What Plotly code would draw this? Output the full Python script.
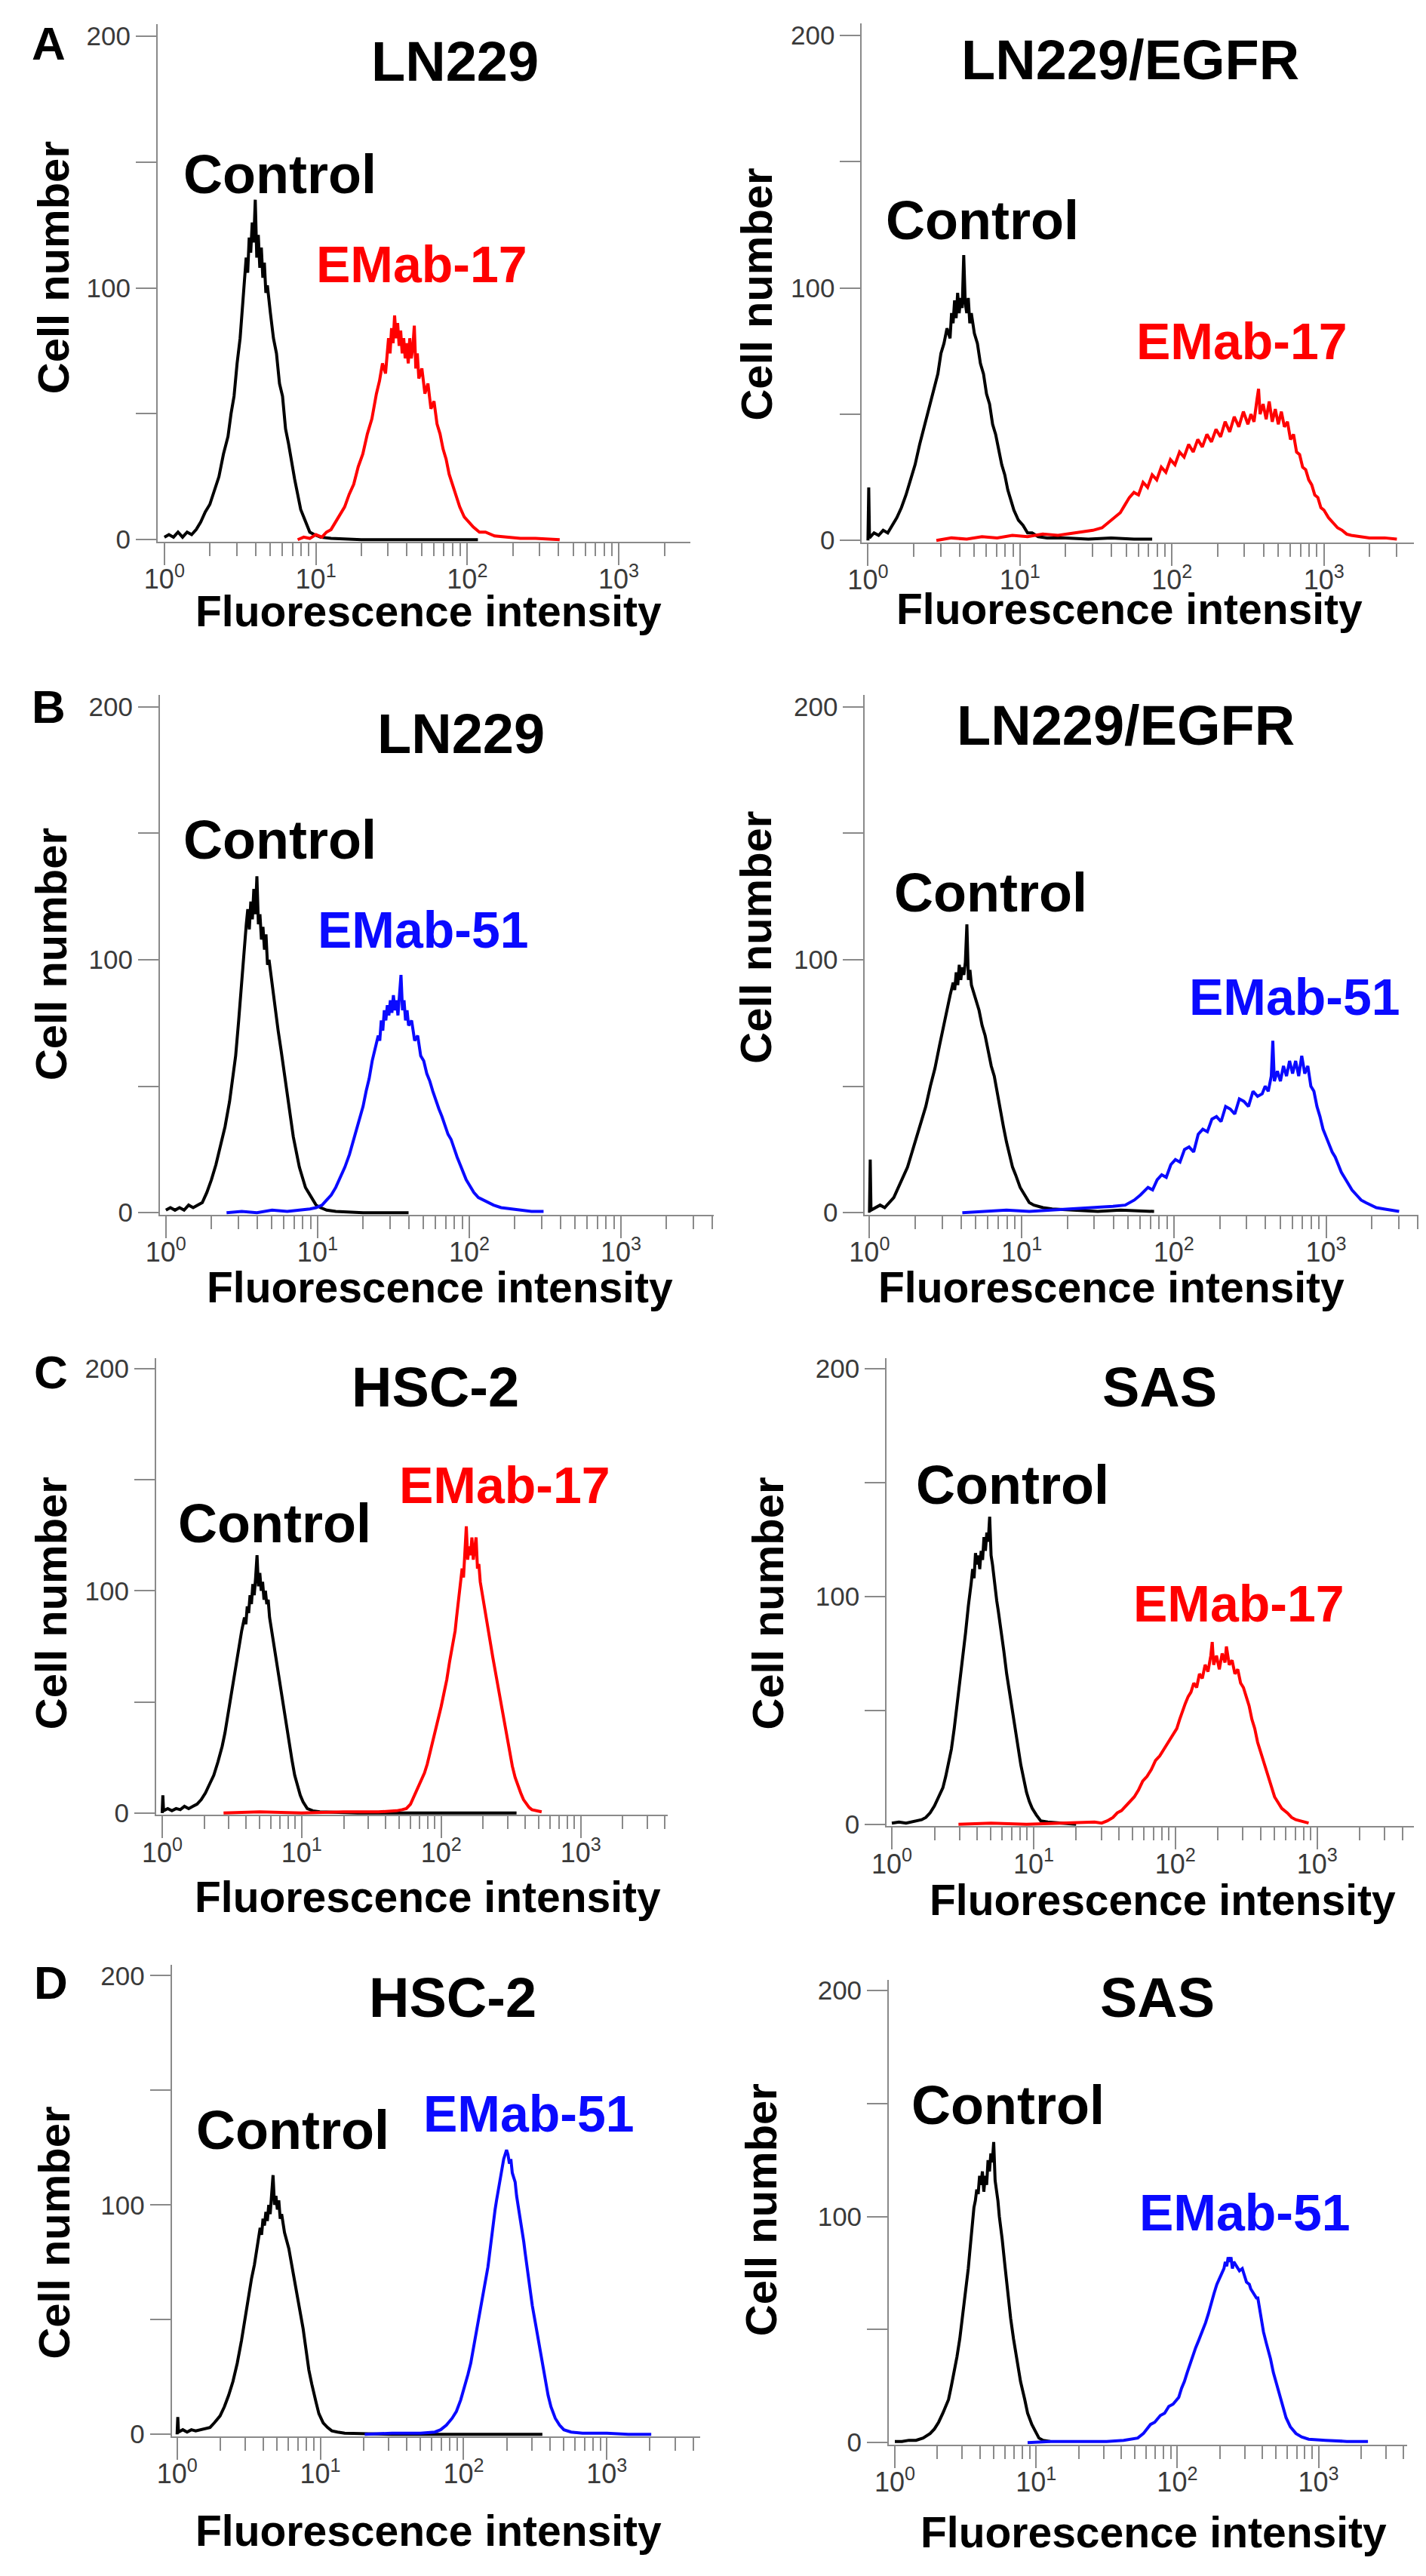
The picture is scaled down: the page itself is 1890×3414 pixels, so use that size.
import plotly.graph_objects as go

W, H = 1890, 3414

# ---------------- data ----------------
panel_letters = ["A", "B", "C", "D"]
cell_lines = ["LN229", "LN229/EGFR", "LN229", "LN229/EGFR", "HSC-2", "SAS", "HSC-2", "SAS"]
antibodies = ["EMab-17", "EMab-17", "EMab-51", "EMab-51", "EMab-17", "EMab-17", "EMab-51", "EMab-51"]
control_label = "Control"
x_title = "Fluorescence intensity"
y_title = "Cell number"
x_tick_vals = [1, 10, 100, 1000]
x_tick_text = ["10<sup>0</sup>", "10<sup>1</sup>", "10<sup>2</sup>", "10<sup>3</sup>"]
x_minor_vals = [2, 3, 4, 5, 6, 7, 8, 9, 20, 30, 40, 50, 60, 70, 80, 90,
                200, 300, 400, 500, 600, 700, 800, 900, 2000, 3000, 4000]
y_tick_vals = [0, 50, 100, 150, 200]
y_tick_text = ["0", "", "100", "", "200"]

# (log10 fluorescence, cell count)
a_ln229_control = [(0.00,1),(0.03,2),(0.06,1),(0.09,3),(0.12,1),(0.15,3),(0.18,2),(0.21,4),(0.24,7),(0.27,11),
    (0.30,14),(0.33,20),(0.36,25),(0.39,34),(0.42,41),(0.44,50),(0.46,57),(0.48,70),(0.50,80),(0.52,96),
    (0.53,104),(0.54,112),(0.55,106),(0.56,120),(0.57,114),(0.58,126),(0.59,118),(0.60,135),(0.61,112),(0.62,121),
    (0.63,108),(0.64,116),(0.65,104),(0.66,110),(0.67,98),(0.68,101),(0.70,90),(0.72,80),(0.74,74),(0.76,62),
    (0.78,57),(0.80,44),(0.82,38),(0.84,30),(0.86,24),(0.88,18),(0.90,12),(0.92,9),(0.94,6),(0.96,3),
    (0.99,2),(1.03,1),(1.10,0.5),(1.30,0),(1.60,0),(1.90,0),(2.07,0)]
a_ln229_emab17 = [(0.88,0),(0.92,1),(0.96,0.5),(1.00,2),(1.04,1),(1.07,3),(1.10,4),(1.13,7),(1.16,10),(1.19,13),
    (1.22,18),(1.25,22),(1.28,29),(1.31,34),(1.34,42),(1.37,48),(1.40,58),(1.42,63),(1.44,70),(1.46,66),
    (1.48,80),(1.49,74),(1.50,84),(1.51,78),(1.52,89),(1.53,80),(1.54,86),(1.55,77),(1.56,83),(1.57,74),
    (1.58,80),(1.59,72),(1.60,78),(1.61,70),(1.62,80),(1.63,72),(1.64,76),(1.65,85),(1.66,68),(1.67,74),
    (1.68,64),(1.70,68),(1.72,58),(1.74,62),(1.76,52),(1.78,55),(1.80,46),(1.82,42),(1.84,36),(1.86,32),
    (1.88,26),(1.90,22),(1.92,18),(1.95,13),(1.98,9),(2.01,7),(2.04,5),(2.08,3),(2.12,3),(2.18,1.5),
    (2.25,1),(2.35,0.5),(2.45,0.5),(2.61,0)]
a_egfr_control = [(0.00,0),(0.005,21),(0.01,1),(0.04,3),(0.07,2),(0.10,4),(0.13,3),(0.16,6),(0.19,9),(0.22,13),
    (0.25,18),(0.28,24),(0.31,30),(0.34,38),(0.37,45),(0.40,52),(0.43,60),(0.46,66),(0.48,74),(0.50,78),
    (0.52,84),(0.54,80),(0.55,90),(0.56,86),(0.57,95),(0.58,88),(0.59,98),(0.60,90),(0.61,96),(0.62,92),
    (0.63,113),(0.64,94),(0.65,90),(0.66,96),(0.67,86),(0.68,90),(0.70,82),(0.72,78),(0.74,70),(0.76,66),
    (0.78,58),(0.80,54),(0.82,46),(0.84,42),(0.86,36),(0.88,30),(0.90,26),(0.92,20),(0.94,16),(0.96,12),
    (0.99,8),(1.02,6),(1.05,3),(1.08,3),(1.12,1.5),(1.18,1),(1.30,1),(1.45,0.5),(1.60,1),(1.75,0.5),(1.87,0.5)]
a_egfr_emab17 = [(0.45,0),(0.55,1),(0.65,0.5),(0.75,1.5),(0.85,1),(0.95,2),(1.05,1.5),(1.15,2.5),(1.25,2),(1.35,3),
    (1.42,3.5),(1.48,4),(1.54,5),(1.58,7),(1.62,9),(1.66,11),(1.69,14),(1.72,17),(1.75,19),(1.78,18),
    (1.81,23),(1.84,21),(1.87,26),(1.90,24),(1.93,29),(1.96,27),(1.99,32),(2.02,30),(2.05,35),(2.08,33),
    (2.11,38),(2.14,35),(2.17,40),(2.20,37),(2.23,42),(2.26,39),(2.29,44),(2.32,41),(2.35,47),(2.38,43),
    (2.41,49),(2.44,45),(2.47,51),(2.50,46),(2.52,50),(2.54,47),(2.56,56),(2.57,60),(2.58,50),(2.60,54),
    (2.62,48),(2.64,55),(2.66,47),(2.68,52),(2.70,46),(2.72,51),(2.74,45),(2.76,47),(2.78,40),(2.80,42),
    (2.82,35),(2.84,34),(2.86,29),(2.88,28),(2.90,24),(2.92,22),(2.94,18),(2.96,17),(2.98,13),(3.00,12),
    (3.03,9),(3.06,7),(3.09,5),(3.12,4),(3.15,2.5),(3.18,2),(3.24,1.5),(3.30,1),(3.40,1),(3.48,0.5)]
b_ln229_control = [(0.00,1),(0.03,2),(0.06,1),(0.09,2),(0.12,1),(0.15,3),(0.18,2),(0.21,3),(0.24,4),(0.27,8),
    (0.30,13),(0.33,19),(0.36,26),(0.39,34),(0.42,44),(0.44,52),(0.46,62),(0.48,76),(0.50,92),(0.51,100),
    (0.52,108),(0.53,114),(0.54,120),(0.55,112),(0.56,123),(0.57,116),(0.58,128),(0.59,118),(0.60,133),(0.61,114),
    (0.62,118),(0.63,108),(0.64,113),(0.65,104),(0.66,110),(0.67,98),(0.68,100),(0.70,90),(0.72,82),(0.74,72),
    (0.76,64),(0.78,55),(0.80,46),(0.82,38),(0.84,30),(0.86,24),(0.88,18),(0.90,14),(0.92,10),(0.94,8),
    (0.96,6),(0.99,3),(1.02,2),(1.06,1),(1.12,0.5),(1.30,0),(1.60,0)]
b_ln229_emab51 = [(0.40,0),(0.50,0.5),(0.60,0),(0.70,1),(0.80,0.5),(0.90,1),(0.95,1.5),(0.99,2),(1.03,3),(1.06,5),
    (1.09,7),(1.12,10),(1.15,14),(1.18,18),(1.21,23),(1.24,29),(1.27,35),(1.30,42),(1.32,48),(1.34,53),
    (1.36,60),(1.38,65),(1.40,70),(1.41,68),(1.42,76),(1.43,72),(1.44,80),(1.45,76),(1.46,82),(1.47,78),
    (1.48,84),(1.49,79),(1.50,86),(1.51,80),(1.52,84),(1.53,78),(1.54,88),(1.55,94),(1.56,80),(1.57,84),
    (1.58,76),(1.59,80),(1.60,74),(1.62,76),(1.64,68),(1.66,70),(1.68,62),(1.70,60),(1.72,55),(1.74,52),
    (1.76,48),(1.78,44),(1.80,41),(1.82,38),(1.84,34),(1.86,31),(1.88,29),(1.90,25),(1.92,22),(1.94,19),
    (1.96,16),(1.98,13),(2.00,11),(2.03,8),(2.06,6),(2.09,5),(2.12,4),(2.16,3),(2.21,2),(2.27,1.5),
    (2.33,1),(2.41,0.5),(2.49,0.5)]
b_egfr_control = [(0.00,0),(0.005,21),(0.01,1),(0.04,2),(0.07,3),(0.10,2),(0.13,4),(0.16,6),(0.19,10),(0.22,14),
    (0.25,18),(0.28,24),(0.31,30),(0.34,36),(0.37,42),(0.40,50),(0.43,57),(0.46,66),(0.49,75),(0.51,80),
    (0.53,86),(0.55,91),(0.56,88),(0.57,95),(0.58,90),(0.59,98),(0.60,92),(0.61,97),(0.62,94),(0.63,99),
    (0.64,114),(0.65,92),(0.66,96),(0.67,90),(0.68,88),(0.70,84),(0.72,80),(0.74,74),(0.76,70),(0.78,64),
    (0.80,58),(0.82,54),(0.84,47),(0.86,41),(0.88,34),(0.90,28),(0.92,23),(0.94,18),(0.96,15),(0.99,10),
    (1.02,7),(1.05,4),(1.08,3),(1.14,2),(1.20,1.5),(1.35,1),(1.50,0.5),(1.65,1),(1.80,0.5),(1.87,0.5)]
b_egfr_emab51 = [(0.61,0),(0.75,0.5),(0.90,1),(1.05,0.5),(1.20,1),(1.35,1.5),(1.50,2),(1.60,2.5),(1.68,3),(1.74,5),
    (1.78,7),(1.83,10),(1.86,9),(1.89,13),(1.92,15),(1.95,14),(1.98,19),(2.01,21),(2.04,20),(2.07,25),
    (2.10,26),(2.13,24),(2.16,31),(2.19,33),(2.22,32),(2.25,37),(2.28,38),(2.31,36),(2.34,42),(2.37,41),
    (2.40,39),(2.43,45),(2.46,44),(2.49,42),(2.52,48),(2.55,46),(2.58,47),(2.60,50),(2.62,48),(2.64,54),
    (2.65,68),(2.66,52),(2.68,56),(2.70,52),(2.72,58),(2.74,54),(2.76,60),(2.78,55),(2.80,60),(2.82,54),
    (2.84,62),(2.86,55),(2.88,58),(2.90,50),(2.92,48),(2.94,42),(2.96,38),(2.98,33),(3.00,30),(3.02,27),
    (3.04,24),(3.06,22),(3.08,19),(3.10,16),(3.12,14),(3.14,12),(3.17,9),(3.20,7),(3.23,5),(3.26,4),
    (3.29,3),(3.33,2),(3.38,1.5),(3.43,1),(3.48,0.5)]
c_hsc2_control = [(0.00,0),(0.005,8),(0.01,1),(0.04,2),(0.07,1),(0.10,2),(0.13,1.5),(0.16,3),(0.19,2),(0.22,3),
    (0.25,4),(0.28,6),(0.31,9),(0.34,13),(0.37,17),(0.40,23),(0.43,30),(0.45,36),(0.47,44),(0.49,52),
    (0.51,60),(0.53,68),(0.55,76),(0.57,82),(0.59,88),(0.60,85),(0.61,93),(0.62,90),(0.63,98),(0.64,94),
    (0.65,103),(0.66,98),(0.67,106),(0.68,116),(0.69,102),(0.70,108),(0.71,100),(0.72,104),(0.73,96),(0.74,100),
    (0.75,94),(0.76,96),(0.77,88),(0.78,84),(0.79,78),(0.81,70),(0.83,62),(0.85,54),(0.87,46),(0.89,38),
    (0.91,30),(0.93,24),(0.95,17),(0.97,12),(0.99,8),(1.01,5),(1.04,2),(1.08,1),(1.13,0.5),(1.40,0),
    (1.80,0),(2.20,0),(2.54,0)]
c_hsc2_emab17 = [(0.44,0),(0.70,0.5),(1.00,0),(1.30,0.5),(1.55,0.5),(1.68,1),(1.72,1.5),(1.75,2),(1.78,4),(1.81,8),
    (1.84,12),(1.86,15),(1.88,18),(1.90,22),(1.92,27),(1.94,32),(1.96,37),(1.98,43),(2.00,48),(2.02,54),
    (2.04,60),(2.06,68),(2.08,75),(2.10,82),(2.11,88),(2.12,94),(2.13,99),(2.14,104),(2.15,110),(2.16,106),
    (2.17,118),(2.18,129),(2.19,114),(2.20,120),(2.21,116),(2.22,124),(2.23,114),(2.24,120),(2.25,124),(2.26,110),
    (2.27,112),(2.28,104),(2.29,100),(2.30,96),(2.31,92),(2.32,88),(2.33,84),(2.35,78),(2.37,70),(2.39,63),
    (2.41,56),(2.43,48),(2.45,42),(2.47,34),(2.49,28),(2.51,21),(2.53,16),(2.55,12),(2.57,9),(2.59,6),
    (2.61,4),(2.63,2.5),(2.65,1.5),(2.68,1),(2.72,0.5)]
c_sas_control = [(0.00,0.5),(0.05,1),(0.10,0.5),(0.14,1),(0.18,1.5),(0.21,2),(0.24,3),(0.27,5),(0.30,8),(0.33,12),
    (0.36,16),(0.38,21),(0.40,27),(0.42,33),(0.44,42),(0.46,52),(0.48,62),(0.50,74),(0.52,84),(0.54,96),
    (0.55,100),(0.56,106),(0.57,112),(0.58,108),(0.59,119),(0.60,114),(0.61,118),(0.62,112),(0.63,120),(0.64,116),
    (0.65,126),(0.66,120),(0.67,128),(0.68,124),(0.69,135),(0.70,118),(0.71,114),(0.72,108),(0.73,104),(0.74,98),
    (0.75,94),(0.77,86),(0.79,76),(0.81,66),(0.83,58),(0.85,50),(0.87,42),(0.89,32),(0.91,26),(0.93,20),
    (0.95,14),(0.97,10),(0.99,7),(1.02,4),(1.05,1.5),(1.10,1),(1.18,0.5),(1.30,0)]
c_sas_emab17 = [(0.47,0),(0.70,0.5),(0.95,0),(1.20,0.5),(1.43,1),(1.48,0.5),(1.52,1.5),(1.56,3),(1.59,5),(1.62,6),
    (1.65,8),(1.68,10),(1.71,12),(1.74,15),(1.77,19),(1.80,21),(1.83,24),(1.86,28),(1.89,30),(1.92,33),
    (1.95,36),(1.98,39),(2.01,42),(2.03,46),(2.05,50),(2.07,53),(2.09,56),(2.11,58),(2.13,62),(2.15,60),
    (2.17,66),(2.19,64),(2.21,70),(2.23,67),(2.25,74),(2.26,80),(2.27,70),(2.29,74),(2.31,68),(2.33,75),
    (2.35,71),(2.36,78),(2.38,70),(2.40,72),(2.42,66),(2.44,68),(2.46,62),(2.48,60),(2.50,56),(2.52,52),
    (2.54,46),(2.56,42),(2.58,36),(2.60,32),(2.62,27),(2.64,23),(2.66,19),(2.68,15),(2.70,12),(2.72,10),
    (2.75,7),(2.79,5),(2.82,3),(2.85,2),(2.90,1),(2.94,0.5)]
d_hsc2_control = [(0.00,0),(0.005,7.5),(0.01,1),(0.04,2),(0.07,1),(0.10,2),(0.13,1.5),(0.17,2),(0.20,2.5),(0.23,3),
    (0.26,5),(0.30,8),(0.33,12),(0.36,17),(0.39,23),(0.42,31),(0.45,41),(0.48,53),(0.50,60),(0.52,68),
    (0.54,74),(0.56,82),(0.58,90),(0.59,87),(0.60,94),(0.61,91),(0.62,97),(0.63,93),(0.64,100),(0.65,96),
    (0.66,104),(0.67,113),(0.68,100),(0.69,104),(0.70,98),(0.71,102),(0.72,94),(0.73,96),(0.75,88),(0.77,84),
    (0.78,81),(0.80,74),(0.82,67),(0.84,60),(0.86,52),(0.88,46),(0.90,37),(0.92,28),(0.94,22),(0.96,16),
    (0.97,14),(0.99,9),(1.02,5),(1.05,3),(1.08,1.5),(1.12,1),(1.17,0.5),(1.50,0),(2.00,0),(2.55,0)]
d_hsc2_emab51 = [(1.31,0),(1.50,0.5),(1.70,0.5),(1.80,1),(1.84,2),(1.88,4),(1.92,7),(1.95,10),(1.98,15),(2.01,21),
    (2.03,26),(2.05,31),(2.07,38),(2.09,45),(2.11,51),(2.13,58),(2.15,65),(2.16,69),(2.17,73),(2.18,78),
    (2.19,83),(2.20,90),(2.21,94),(2.22,98),(2.23,102),(2.24,106),(2.25,110),(2.26,114),(2.27,118),(2.28,120),
    (2.29,122),(2.30,124),(2.31,122),(2.32,118),(2.33,120),(2.34,114),(2.35,112),(2.36,110),(2.37,104),(2.38,100),
    (2.39,96),(2.40,92),(2.41,90),(2.42,84),(2.43,79),(2.44,74),(2.45,69),(2.46,64),(2.47,60),(2.48,56),
    (2.50,49),(2.52,42),(2.54,35),(2.55,31),(2.57,24),(2.59,17),(2.61,12),(2.63,9),(2.64,7),(2.67,4),
    (2.70,2),(2.75,1),(2.83,0.5),(3.00,0.5),(3.15,0),(3.31,0)]
d_sas_control = [(0.00,0.5),(0.05,0.5),(0.10,1),(0.15,1),(0.20,2),(0.25,4),(0.28,6),(0.31,9),(0.34,13),(0.36,16),
    (0.38,19),(0.40,25),(0.42,31),(0.44,38),(0.46,46),(0.47,51),(0.49,60),(0.51,70),(0.52,77),(0.53,84),
    (0.54,92),(0.55,98),(0.56,104),(0.57,107),(0.58,112),(0.59,110),(0.60,118),(0.61,114),(0.62,120),(0.63,111),
    (0.64,118),(0.65,114),(0.66,125),(0.67,120),(0.68,128),(0.69,124),(0.70,133),(0.71,116),(0.72,112),(0.73,107),
    (0.74,100),(0.75,96),(0.76,90),(0.78,78),(0.80,66),(0.82,55),(0.84,46),(0.86,38),(0.87,35),(0.89,27),
    (0.92,19),(0.94,13),(0.97,8),(1.00,4),(1.02,2),(1.05,1),(1.08,0.5),(1.10,0.5)]
d_sas_emab51 = [(0.94,0),(1.10,0.5),(1.30,0.5),(1.50,0.5),(1.62,1),(1.67,1.5),(1.72,2),(1.76,4),(1.81,8),(1.84,9),
    (1.88,12),(1.91,13),(1.94,16),(1.97,17),(2.01,20),(2.03,24),(2.05,27),(2.07,31),(2.09,35),(2.11,38),
    (2.13,42),(2.15,45),(2.17,48),(2.19,51),(2.20,53),(2.22,57),(2.24,62),(2.26,66),(2.28,70),(2.30,73),
    (2.32,76),(2.33,77),(2.34,80),(2.35,78),(2.36,82),(2.37,80),(2.38,82),(2.39,77),(2.40,80),(2.42,78),
    (2.44,76),(2.46,77),(2.47,75),(2.49,71),(2.51,70),(2.52,68),(2.54,66),(2.56,64),(2.57,64),(2.59,56),
    (2.61,49),(2.63,44),(2.66,37),(2.68,31),(2.71,24),(2.74,17),(2.77,11),(2.80,7),(2.84,4),(2.88,2.5),
    (2.93,1.5),(3.05,1),(3.20,0.5),(3.35,0.5)]

controls = [a_ln229_control, a_egfr_control, b_ln229_control, b_egfr_control,
            c_hsc2_control, c_sas_control, d_hsc2_control, d_sas_control]
stained = [a_ln229_emab17, a_egfr_emab17, b_ln229_emab51, b_egfr_emab51,
           c_hsc2_emab17, c_sas_emab17, d_hsc2_emab51, d_sas_emab51]

# ---------------- layout geometry (pixels in the 1890x3414 page) ----------------
# ax: y-axis x, ae: x-axis right end, x0: pixel of 10^0, dec: pixels per decade,
# y200 / y0: pixels of the 200 and 0 ticks
geom = [
    dict(ax=182, ae=896, x0=191, dec=203.0, y200=34, y0=706,
         title=(580, 68), ctrl=(346, 218), ab=(536, 338), ylab=(42, 343), xlab=(545, 801)),
    dict(ax=1126, ae=1866, x0=1134, dec=203.7, y200=33, y0=707,
         title=(1486, 66), ctrl=(1287, 280), ab=(1635, 441), ylab=(984, 379), xlab=(1484, 798)),
    dict(ax=185, ae=927, x0=193, dec=203.3, y200=929, y0=1604,
         title=(589, 965), ctrl=(346, 1106), ab=(538, 1226), ylab=(39, 1259), xlab=(560, 1703)),
    dict(ax=1130, ae=1872, x0=1136, dec=204.0, y200=929, y0=1604,
         title=(1479, 954), ctrl=(1298, 1177), ab=(1706, 1316), ylab=(984, 1237), xlab=(1460, 1703)),
    dict(ax=180, ae=866, x0=188, dec=187.0, y200=1812, y0=2405,
         title=(554, 1837), ctrl=(339, 2019), ab=(647, 1967), ylab=(39, 2125), xlab=(544, 2517)),
    dict(ax=1159, ae=1866, x0=1166, dec=190.0, y200=1812, y0=2420,
         title=(1525, 1837), ctrl=(1328, 1967), ab=(1631, 2125), ylab=(1000, 2125), xlab=(1529, 2521)),
    dict(ax=201, ae=909, x0=208, dec=192.0, y200=2622, y0=3234,
         title=(577, 2651), ctrl=(363, 2828), ab=(680, 2806), ylab=(42, 2965), xlab=(545, 3363)),
    dict(ax=1162, ae=1857, x0=1170, dec=189.3, y200=2642, y0=3245,
         title=(1522, 2651), ctrl=(1322, 2795), ab=(1639, 2938), ylab=(990, 2935), xlab=(1517, 3365)),
]
letter_pos = [(36, 44), (36, 929), (39, 1817), (39, 2631)]

FONT = "Liberation Sans, Arial, Helvetica, sans-serif"
AXC = "#8a8a8a"
TICKC = "#3a3a3a"
RED = "#ff0000"
BLUE = "#0a0aff"
Y_LO, Y_HI = -0.9, 204.7


def fx(px):
    return px / W


def fy(py):
    return 1 - py / H


fig = go.Figure()
layout = dict(width=W, height=H, margin=dict(l=0, r=0, t=0, b=0),
              paper_bgcolor="white", plot_bgcolor="white", showlegend=False,
              annotations=[])

for i, g in enumerate(geom):
    n = i + 1
    xs = "" if n == 1 else str(n)
    color = RED if antibodies[i] == "EMab-17" else BLUE
    ppu = (g["y0"] - g["y200"]) / 200.0
    y_bot = g["y0"] - Y_LO * ppu
    y_top = g["y200"] - (Y_HI - 200) * ppu
    layout["xaxis" + xs] = dict(
        type="log", domain=[fx(g["ax"]), fx(g["ae"])],
        range=[(g["ax"] - g["x0"]) / g["dec"], (g["ae"] - g["x0"]) / g["dec"]],
        anchor="y" + xs, showline=True, linecolor=AXC, linewidth=2, mirror=False,
        ticks="outside", ticklen=29, tickwidth=2, tickcolor=AXC,
        tickmode="array", tickvals=x_tick_vals, ticktext=x_tick_text,
        tickfont=dict(family=FONT, size=36, color=TICKC),
        ticklabelstandoff=-12,
        showgrid=False, zeroline=False,
        minor=dict(ticks="outside", ticklen=17, tickwidth=2, tickcolor=AXC,
                   tickmode="array", tickvals=x_minor_vals, showgrid=False),
    )
    layout["yaxis" + xs] = dict(
        domain=[fy(y_bot), fy(y_top)], range=[Y_LO, Y_HI],
        anchor="x" + xs, showline=True, linecolor=AXC, linewidth=2, mirror=False,
        ticks="outside", ticklen=27, tickwidth=2, tickcolor=AXC,
        tickmode="array", tickvals=y_tick_vals, ticktext=y_tick_text,
        tickfont=dict(family=FONT, size=35, color=TICKC),
        showgrid=False, zeroline=False,
    )
    for series, col in ((controls[i], "#000000"), (stained[i], color)):
        fig.add_trace(go.Scatter(
            x=[10 ** L for L, _ in series], y=[v for _, v in series],
            mode="lines", line=dict(color=col, width=4),
            xaxis="x" + xs, yaxis="y" + xs, hoverinfo="skip"))

    def ann(text, pos, size, col="#000000", angle=0):
        layout["annotations"].append(dict(
            text="<b>" + text + "</b>", x=fx(pos[0]), y=fy(pos[1]),
            xref="paper", yref="paper", xanchor="center", yanchor="middle",
            showarrow=False, textangle=angle,
            font=dict(family=FONT, size=size, color=col)))

    ann(cell_lines[i], g["title"], 74)
    ann(control_label, g["ctrl"], 72)
    ann(antibodies[i], g["ab"], 68, color)
    ann(y_title, g["ylab"], 58, angle=-90)
    ann(x_title, g["xlab"], 57)

for k, letter in enumerate(panel_letters):
    layout["annotations"].append(dict(
        text="<b>" + letter + "</b>", x=fx(letter_pos[k][0]), y=fy(letter_pos[k][1]),
        xref="paper", yref="paper", xanchor="center", yanchor="middle", showarrow=False,
        font=dict(family=FONT, size=62, color="#000000")))

fig.update_layout(**layout)
fig.write_html("out.html")
